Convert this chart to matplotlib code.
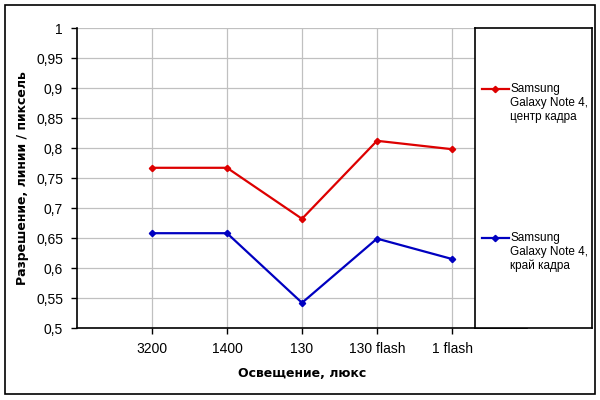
import matplotlib
matplotlib.use('Agg')
import matplotlib.pyplot as plt
from matplotlib.patches import Rectangle

# data
categories = ['3200', '1400', '130', '130 flash', '1 flash']
center_vals = [0.767, 0.767, 0.682, 0.812, 0.798]
edge_vals = [0.658, 0.658, 0.542, 0.649, 0.615]
series_names = ['Samsung\nGalaxy Note 4,\nцентр кадра',
                'Samsung\nGalaxy Note 4,\nкрай кадра']
y_ticks = [0.5, 0.55, 0.6, 0.65, 0.7, 0.75, 0.8, 0.85, 0.9, 0.95, 1.0]

red = '#dd0000'
blue = '#0000c0'
grid_col = '#c0c0c0'

plt.rcParams['font.family'] = ['Liberation Sans', 'DejaVu Sans']

fig = plt.figure(figsize=(6, 4), dpi=100)
fig.patch.set_facecolor('white')

# outer chart border
fig.patches.append(Rectangle((5 / 600, 6 / 400), 590 / 600, 389 / 400,
                             transform=fig.transFigure, fill=False,
                             edgecolor='black', linewidth=1.2))

ax = fig.add_axes([77 / 600, 72 / 400, 450 / 600, 300 / 400])
x = list(range(len(categories)))
ax.plot(x, center_vals, color=red, lw=1.6, marker='D', ms=3.2)
ax.plot(x, edge_vals, color=blue, lw=1.6, marker='D', ms=3.2)

ax.set_xlim(-1, 5)
ax.set_ylim(0.5, 1.0)
ax.set_xticks(x)
ax.set_xticklabels(categories, fontsize=10)
ax.set_yticks(y_ticks)
ax.set_yticklabels([('%g' % v).replace('.', ',') for v in y_ticks], fontsize=10)
ax.tick_params(direction='out', length=4, width=1, pad=6, colors='black')
ax.grid(True, color=grid_col, linewidth=0.9)
ax.set_axisbelow(True)
for s in ['top', 'right']:
    ax.spines[s].set_visible(False)
for s in ['left', 'bottom']:
    ax.spines[s].set_linewidth(1.2)

ax.set_xlabel('Освещение, люкс', fontsize=9, fontweight='bold',
              family='DejaVu Sans', labelpad=8)
ax.set_ylabel('Разрешение, линии / пиксель', fontsize=9, fontweight='bold',
              family='DejaVu Sans', labelpad=5)

# legend box on the right, handle sits beside the first text line
lax = fig.add_axes([475 / 600, 72 / 400, 117 / 600, 300 / 400])
lax.set_facecolor('white')
lax.set_xlim(0, 1)
lax.set_ylim(0, 1)
lax.set_xticks([])
lax.set_yticks([])
for s in lax.spines.values():
    s.set_linewidth(1.2)

legend_rows = [(red, series_names[0], 0.75), (blue, series_names[1], 0.253)]
for col, name, yc in legend_rows:
    hy = yc + 14 / 300
    lax.plot([0.06, 0.29], [hy, hy], color=col, lw=1.6)
    lax.plot([0.175], [hy], color=col, marker='D', ms=3.2)
    lax.text(0.30, yc, name, fontsize=8.5, va='center', ha='left',
             linespacing=1.2)

fig.savefig('out.png', dpi=100)
